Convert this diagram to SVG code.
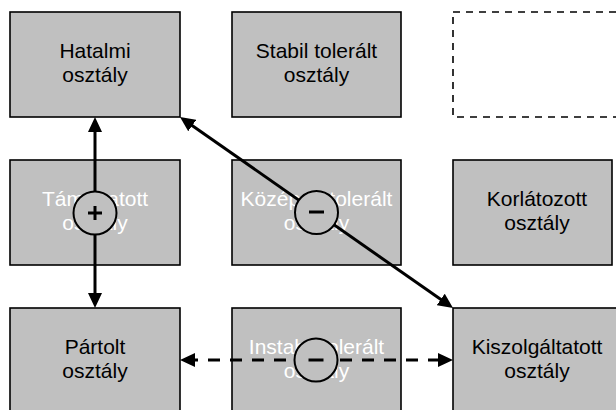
<svg xmlns="http://www.w3.org/2000/svg" width="616" height="410" viewBox="0 0 616 410">
<defs>
<style>
.box{fill:#C0C0C0;stroke:#000;stroke-width:1.6}
.dbox{fill:none;stroke:#000;stroke-width:1.6;stroke-dasharray:7 6}
.t{font-family:"Liberation Sans",Arial,sans-serif;font-size:21px;text-anchor:middle;fill:#000}
.w{fill:#fff}
.conn{stroke:#000;stroke-width:3;fill:none}
.dash{stroke-dasharray:12 10}
.circ{fill:#C0C0C0;stroke:#000;stroke-width:2}
.sign{stroke:#000;stroke-width:3;fill:none}
</style>
<marker id="ah" viewBox="0 0 15 14" markerWidth="15" markerHeight="14" refX="9" refY="7" orient="auto-start-reverse" markerUnits="userSpaceOnUse">
<path d="M0,0 L15,7 L0,14 z" fill="#000"/>
</marker>
</defs>
<rect width="616" height="410" fill="#fff"/>
<g id="hatalmi"><rect class="box" x="10" y="12" width="170" height="105"/><text class="t" x="95" y="58">Hatalmi</text><text class="t" x="95" y="82">osztály</text></g>
<g id="stabil"><rect class="box" x="232" y="12" width="169" height="105"/><text class="t" x="316.5" y="58">Stabil tolerált</text><text class="t" x="316.5" y="82">osztály</text></g>
<g id="ures"><rect class="dbox" x="453" y="12" width="200" height="105"/></g>
<g id="tamogatott"><rect class="box" x="10" y="160" width="170" height="105"/><text class="t w" x="95" y="206">Támogatott</text><text class="t w" x="95" y="230">osztály</text></g>
<g id="kozepen"><rect class="box" x="232" y="160" width="169" height="105"/><text class="t w" x="316.5" y="206">Középen tolerált</text><text class="t w" x="316.5" y="230">osztály</text></g>
<g id="korlatozott"><rect class="box" x="453" y="160" width="159" height="105"/><text class="t" x="537" y="206">Korlátozott</text><text class="t" x="537" y="230">osztály</text></g>
<g id="partolt"><rect class="box" x="10" y="308" width="170" height="110"/><text class="t" x="95" y="354">Pártolt</text><text class="t" x="95" y="378">osztály</text></g>
<g id="instabil"><rect class="box" x="232" y="308" width="169" height="110"/><text class="t w" x="316.5" y="354">Instabil tolerált</text><text class="t w" x="316.5" y="378">osztály</text></g>
<g id="kiszolgaltatott"><rect class="box" x="453" y="308" width="200" height="110"/><text class="t" x="537" y="354">Kiszolgáltatott</text><text class="t" x="537" y="378">osztály</text></g>
<g id="connectors">
<line class="conn" x1="95" y1="123" x2="95" y2="302" marker-start="url(#ah)" marker-end="url(#ah)"/>
<line class="conn" x1="184.9" y1="120.4" x2="448.1" y2="304.6" marker-start="url(#ah)" marker-end="url(#ah)"/>
<line class="conn dash" x1="186" y1="360" x2="447" y2="360" marker-start="url(#ah)" marker-end="url(#ah)"/>
<circle class="circ" cx="95" cy="213" r="21.5"/>
<path class="sign" d="M88,213 H102 M95,206 V220"/>
<circle class="circ" cx="316.5" cy="212.5" r="21.5"/>
<path class="sign" d="M309,212 H324"/>
<circle class="circ" cx="316" cy="360" r="21.5"/>
<path class="sign" d="M308.5,360 H323.5"/>
</g>
</svg>
